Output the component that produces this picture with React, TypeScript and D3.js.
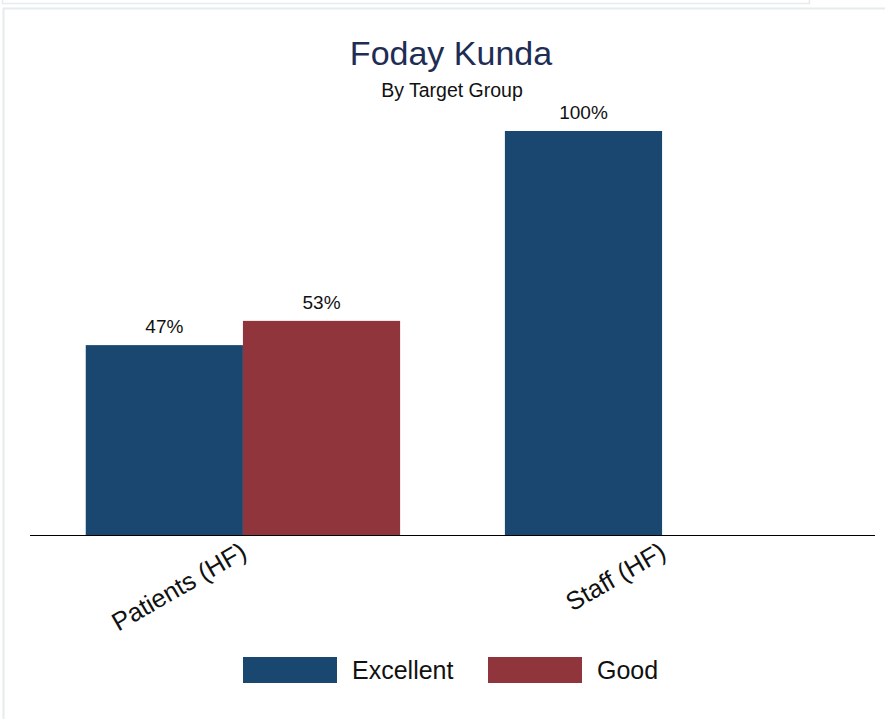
import React, { useEffect, useRef } from 'react';
import * as d3 from 'd3';

// chart data
const categories = ['Patients (HF)', 'Staff (HF)'];
const seriesNames = ['Excellent', 'Good'];
const excellent = [47, 100];
const good = [53, null];
const seriesColors = ['#1a476f', '#90353b'];

export default function App() {
  const ref = useRef<SVGSVGElement>(null);

  useEffect(() => {
    const width = 885;
    const height = 719;
    const svg = d3.select(ref.current);
    svg.selectAll('*').remove();
    svg.attr('width', width).attr('height', height).style('background', 'white');

    // page frame lines
    svg.append('rect').attr('x', 2.5).attr('y', -10).attr('width', 807).attr('height', 13.5)
      .attr('fill', 'none').attr('stroke', '#e6ecec').attr('stroke-width', 1.5);
    svg.append('rect').attr('x', 3.5).attr('y', 8.5).attr('width', 900).attr('height', 800)
      .attr('fill', 'white').attr('stroke', '#e6ecec').attr('stroke-width', 2);

    const fontFamily = 'Liberation Sans, Arial, sans-serif';
    const baseY = 535;

    // group scale
    const x0 = d3.scaleBand().domain(categories).range([30, 875]).paddingInner(0.25).paddingOuter(0.133);
    const x1 = d3.scaleBand().domain(seriesNames).range([0, x0.bandwidth()]);
    const y = d3.scaleLinear().domain([0, 100]).range([baseY, 131]);

    const rows = categories.map((c, i) => ({
      cat: c,
      vals: [excellent[i], good[i]],
    }));

    const groups = svg.append('g').selectAll('g').data(rows).enter().append('g')
      .attr('transform', d => `translate(${x0(d.cat)},0)`);

    groups.each(function (d) {
      const g = d3.select(this);
      d.vals.forEach((v, j) => {
        if (v == null) return;
        const bx = x1(seriesNames[j])!;
        g.append('rect')
          .attr('x', bx)
          .attr('y', y(v))
          .attr('width', x1.bandwidth())
          .attr('height', baseY - y(v))
          .attr('fill', seriesColors[j]);
        g.append('text')
          .attr('x', bx + x1.bandwidth() / 2)
          .attr('y', y(v) - 12)
          .attr('text-anchor', 'middle')
          .style('font-family', fontFamily)
          .style('font-size', '19px')
          .attr('fill', '#111')
          .text(`${v}%`);
      });
    });

    // x axis line
    svg.append('line').attr('x1', 30).attr('x2', 875).attr('y1', baseY + 0.5).attr('y2', baseY + 0.5)
      .attr('stroke', 'black').attr('stroke-width', 1.2);

    // category labels
    svg.append('g').selectAll('text').data(categories).enter().append('text')
      .attr('transform', d => `translate(${x0(d)! + x0.bandwidth() / 2 + 1},${baseY + 14}) rotate(-30)`)
      .attr('text-anchor', 'end')
      .attr('dy', '0.35em')
      .style('font-family', fontFamily)
      .style('font-size', '25.5px')
      .attr('fill', '#111')
      .text(d => d);

    // title
    svg.append('text').attr('x', 451).attr('y', 65).attr('text-anchor', 'middle')
      .style('font-family', fontFamily).style('font-size', '34px').attr('fill', '#1e2d54')
      .text('Foday Kunda');
    svg.append('text').attr('x', 452).attr('y', 97).attr('text-anchor', 'middle')
      .style('font-family', fontFamily).style('font-size', '19.5px').attr('fill', '#111')
      .text('By Target Group');

    // legend
    const legendX = [243, 488];
    const leg = svg.append('g').selectAll('g').data(seriesNames).enter().append('g')
      .attr('transform', (d, i) => `translate(${legendX[i]},657)`);
    leg.append('rect').attr('width', 94).attr('height', 26).attr('fill', (d, i) => seriesColors[i]);
    leg.append('text').attr('x', 109).attr('y', 22)
      .style('font-family', fontFamily).style('font-size', '25px').attr('fill', '#111')
      .text(d => d);
  }, []);

  return (
    <div style={{ position: 'absolute', left: 0, top: 0 }}>
      <svg ref={ref}></svg>
    </div>
  );
}
